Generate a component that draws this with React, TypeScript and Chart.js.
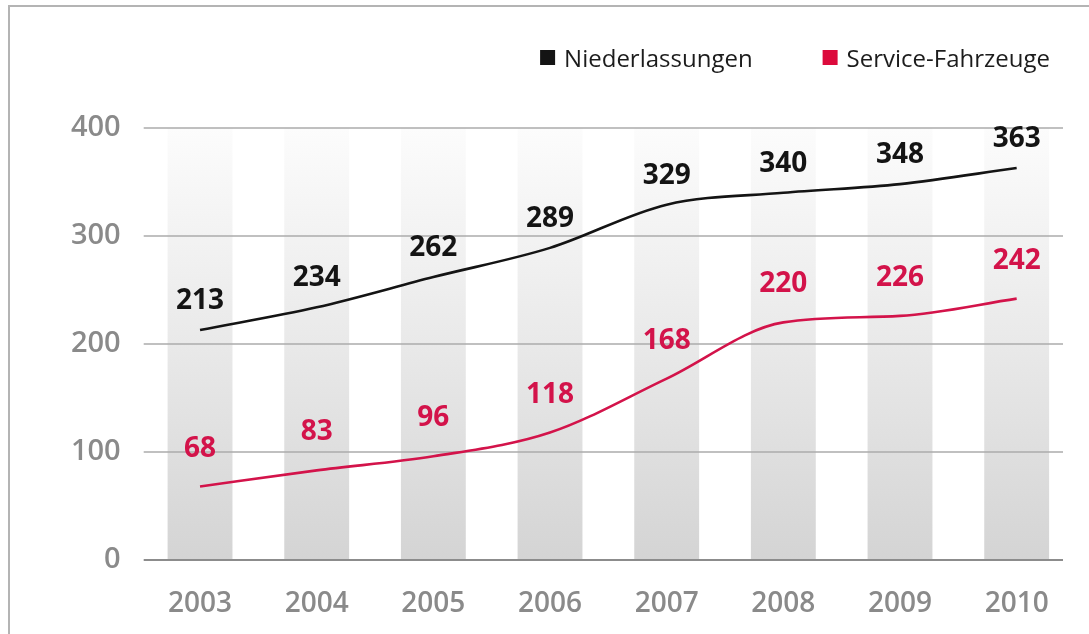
import React, { useEffect, useRef } from 'react';
import { Chart, registerables } from 'chart.js';

Chart.register(...registerables);

// ---- data ----
const years = ['2003', '2004', '2005', '2006', '2007', '2008', '2009', '2010'];
const niederlassungen = [213, 234, 262, 289, 329, 340, 348, 363];
const serviceFahrzeuge = [68, 83, 96, 118, 168, 220, 226, 242];
const yTicks = [0, 100, 200, 300, 400];
const seriesNames = ['Niederlassungen', 'Service-Fahrzeuge'];

// ---- style ----
const BLACK = '#141414';
const RED = '#d3134a';
const RED_BOX = '#dc0a3c';
const GRAY_TEXT = '#8a8a8a';
const FONT = "'Open Sans', 'Noto Sans', sans-serif";
const LABEL_OFFSETS = [29, 38];

const bandsAndGrid = {
  id: 'bandsAndGrid',
  beforeDatasetsDraw(chart: any) {
    const { ctx, chartArea, scales } = chart;
    const x = scales.x;
    const y = scales.y;
    const step = x.getPixelForValue(1) - x.getPixelForValue(0);
    const w = step * 0.556;
    const top = y.getPixelForValue(yTicks[yTicks.length - 1]);
    const bottom = y.getPixelForValue(yTicks[0]);
    ctx.save();
    const g = ctx.createLinearGradient(0, top, 0, bottom);
    g.addColorStop(0, '#fcfcfc');
    g.addColorStop(0.5, '#e9e9e9');
    g.addColorStop(1, '#d4d4d4');
    ctx.fillStyle = g;
    years.forEach((_, i) => {
      const xc = x.getPixelForValue(i);
      ctx.fillRect(xc - w / 2, top, w, bottom - top);
    });
    // grid lines
    yTicks.forEach((v, i) => {
      const py = y.getPixelForValue(v);
      ctx.beginPath();
      ctx.strokeStyle = i === 0 ? '#8c8c8c' : '#ababab';
      ctx.lineWidth = i === 0 ? 2.2 : 1.6;
      ctx.moveTo(chartArea.left + 2, py);
      ctx.lineTo(chartArea.right - 12, py);
      ctx.stroke();
    });
    ctx.restore();
  },
};

const valueLabels = {
  id: 'valueLabels',
  afterDatasetsDraw(chart: any) {
    const { ctx } = chart;
    ctx.save();
    ctx.font = `700 28px ${FONT}`;
    ctx.textAlign = 'center';
    ctx.textBaseline = 'middle';
    chart.data.datasets.forEach((ds: any, di: number) => {
      const meta = chart.getDatasetMeta(di);
      ctx.fillStyle = ds.borderColor;
      meta.data.forEach((pt: any, i: number) => {
        ctx.fillText(String(ds.data[i]), pt.x, pt.y - LABEL_OFFSETS[di]);
      });
    });
    ctx.restore();
  },
};

const customLegend = {
  id: 'customLegend',
  afterDraw(chart: any) {
    const { ctx, chartArea } = chart;
    ctx.save();
    ctx.font = `400 24px ${FONT}`;
    ctx.textBaseline = 'alphabetic';
    ctx.textAlign = 'left';
    const box = 15;
    const gap = 9;
    const itemGap = 70;
    const colors = [BLACK, RED_BOX];
    const widths = seriesNames.map((n) => box + gap + ctx.measureText(n).width);
    const total = widths.reduce((a, b) => a + b, 0) + itemGap * (widths.length - 1);
    let cx = chartArea.right - 25 - total;
    const baseline = chartArea.top - 61;
    const boxTop = chartArea.top - 78;
    seriesNames.forEach((n, i) => {
      ctx.fillStyle = colors[i];
      ctx.fillRect(cx, boxTop, box, box);
      ctx.fillStyle = '#1c1c1c';
      ctx.fillText(n, cx + box + gap, baseline);
      cx += widths[i] + itemGap;
    });
    ctx.restore();
  },
};

export default function App() {
  const ref = useRef<HTMLCanvasElement>(null);
  useEffect(() => {
    const chart = new Chart(ref.current as HTMLCanvasElement, {
      type: 'line',
      data: {
        labels: years,
        datasets: [
          {
            label: seriesNames[0],
            data: niederlassungen,
            borderColor: BLACK,
            borderWidth: 2.6,
            pointRadius: 0,
            cubicInterpolationMode: 'monotone',
            fill: false,
          },
          {
            label: seriesNames[1],
            data: serviceFahrzeuge,
            borderColor: RED,
            borderWidth: 2.6,
            pointRadius: 0,
            cubicInterpolationMode: 'monotone',
            fill: false,
          },
        ],
      },
      options: {
        animation: false,
        responsive: false,
        devicePixelRatio: 1,
        layout: { padding: { top: 121, right: 14, bottom: 0, left: 0 } },
        plugins: {
          legend: { display: false },
          tooltip: { enabled: false },
        },
        scales: {
          x: {
            type: 'category',
            offset: true,
            grid: { display: false, drawTicks: false },
            border: { display: false },
            ticks: {
              color: GRAY_TEXT,
              font: { family: FONT, size: 28, weight: '600' },
              padding: 27,
              maxRotation: 0,
            },
            afterFit: (s: any) => {
              s.height = 74;
            },
          },
          y: {
            min: yTicks[0],
            max: yTicks[yTicks.length - 1],
            grid: { display: false, drawTicks: false },
            border: { display: false },
            ticks: {
              color: GRAY_TEXT,
              font: { family: FONT, size: 29, weight: '600' },
              padding: 21,
            },
            afterBuildTicks: (s: any) => {
              s.ticks = yTicks.map((v) => ({ value: v }));
            },
            afterFit: (s: any) => {
              s.width = 131.7;
            },
          },
        },
      },
      plugins: [bandsAndGrid, valueLabels, customLegend],
    } as any);
    return () => chart.destroy();
  }, []);

  return (
    <div
      style={{
        position: 'absolute',
        left: 8,
        top: 5,
        width: 1081,
        height: 629,
        borderTop: '2px solid #b4b4b4',
        borderLeft: '2px solid #b4b4b4',
        boxSizing: 'border-box',
        background: '#ffffff',
      }}
    >
      <canvas ref={ref} width={1079} height={627} style={{ display: 'block' }} />
    </div>
  );
}
